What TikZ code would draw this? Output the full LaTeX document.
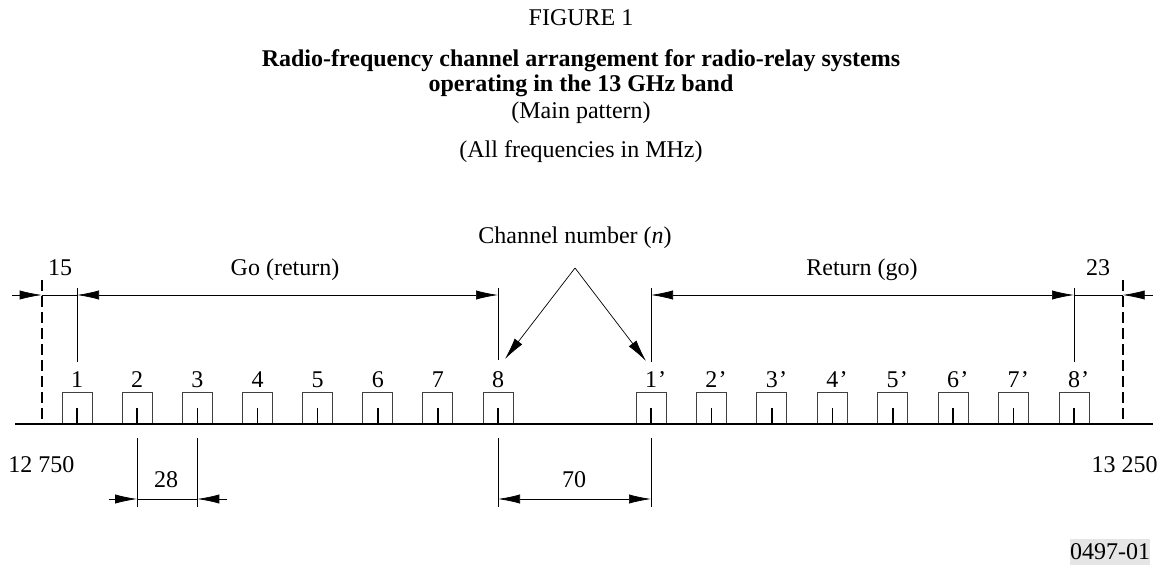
\documentclass[tikz,border=0pt]{standalone}
\usepackage{fontspec}
\setmainfont{Liberation Serif}
\usepackage{tikz}
\usetikzlibrary{positioning}
\usetikzlibrary{arrows.meta}
\tikzset{
  arrow_one/.style={-{Latex[length=11pt, width=4.6pt]}, line width=0.35pt, color=black},
  arrow_two/.style={{Latex[length=11pt, width=4.6pt]}-{Latex[length=11pt, width=4.6pt]}, line width=0.35pt, color=black},
  arrow_v/.style={-{Latex[length=11pt, width=4.8pt]}, line width=0.35pt, color=black},
  dim_line/.style={-, line width=0.35pt, color=black},
  band_edge/.style={-, dash pattern=on 5.5pt off 2.5pt, line width=0.9pt, color=black},
  base_line/.style={-, line width=0.8pt, color=black},
  chan_box/.style={rectangle, draw, color=black!75, line width=0.5pt, minimum width=15pt, minimum height=15.5pt, inner sep=0, anchor=south},
  chan_tick/.style={-, line width=0.8pt, color=black},
  lab/.style={anchor=base, inner sep=0, font=\fontsize{12}{14}\selectfont},
  title_lab/.style={anchor=base, inner sep=0, font=\fontsize{12}{14}\selectfont},
  title_bold/.style={anchor=base, inner sep=0, font=\fontsize{12}{14}\selectfont\bfseries},
  fig_tag/.style={fill=black!10, inner xsep=0pt, inner ysep=2.6pt, font=\fontsize{12}{14}\selectfont}
}

\begin{document}
\begin{tikzpicture}[x=0.5pt, y=-0.5pt]
\useasboundingbox (0,0) rectangle (1162,567);

%% Title
\node[title_lab]  (fig)   at (581,26)  {FIGURE 1};
\node[title_bold] (tit1)  at (581,67)  {Radio-frequency channel arrangement for radio-relay systems};
\node[title_bold] (tit2)  at (581,92)  {operating in the 13 GHz band};
\node[title_lab]  (tit3)  at (581,119) {(Main pattern)};
\node[title_lab]  (tit4)  at (581,157) {(All frequencies in MHz)};

%% Channels (go)
\node[chan_box] at (77,424)    (ch1) {};
\node[chan_box] at (137.1,424) (ch2) {};
\node[chan_box] at (197.3,424) (ch3) {};
\node[chan_box] at (257.5,424) (ch4) {};
\node[chan_box] at (317.6,424) (ch5) {};
\node[chan_box] at (377.8,424) (ch6) {};
\node[chan_box] at (437.9,424) (ch7) {};
\node[chan_box] at (498,424)   (ch8) {};

%% Channels (return)
\node[chan_box] at (651,424)    (ch1p) {};
\node[chan_box] at (711.4,424)  (ch2p) {};
\node[chan_box] at (771.9,424)  (ch3p) {};
\node[chan_box] at (832.3,424)  (ch4p) {};
\node[chan_box] at (892.7,424)  (ch5p) {};
\node[chan_box] at (953.1,424)  (ch6p) {};
\node[chan_box] at (1013.6,424) (ch7p) {};
\node[chan_box] at (1074,424)   (ch8p) {};

\draw[chan_tick] (ch1.south) -- (ch1.center);
\draw[chan_tick] (ch2.south) -- (ch2.center);
\draw[chan_tick] (ch3.south) -- (ch3.center);
\draw[chan_tick] (ch4.south) -- (ch4.center);
\draw[chan_tick] (ch5.south) -- (ch5.center);
\draw[chan_tick] (ch6.south) -- (ch6.center);
\draw[chan_tick] (ch7.south) -- (ch7.center);
\draw[chan_tick] (ch8.south) -- (ch8.center);

\draw[chan_tick] (ch1p.south) -- (ch1p.center);
\draw[chan_tick] (ch2p.south) -- (ch2p.center);
\draw[chan_tick] (ch3p.south) -- (ch3p.center);
\draw[chan_tick] (ch4p.south) -- (ch4p.center);
\draw[chan_tick] (ch5p.south) -- (ch5p.center);
\draw[chan_tick] (ch6p.south) -- (ch6p.center);
\draw[chan_tick] (ch7p.south) -- (ch7p.center);
\draw[chan_tick] (ch8p.south) -- (ch8p.center);

%% Channel numbers
\node[lab] at (77,387)    (n1) {1};
\node[lab] at (137.1,387) (n2) {2};
\node[lab] at (197.3,387) (n3) {3};
\node[lab] at (257.5,387) (n4) {4};
\node[lab] at (317.6,387) (n5) {5};
\node[lab] at (377.8,387) (n6) {6};
\node[lab] at (437.9,387) (n7) {7};
\node[lab] at (498,387)   (n8) {8};

\node[lab] at (651,387)    (n1p) {1\rlap{\kern0.6pt’}};
\node[lab] at (711.4,387)  (n2p) {2\rlap{\kern0.6pt’}};
\node[lab] at (771.9,387)  (n3p) {3\rlap{\kern0.6pt’}};
\node[lab] at (832.3,387)  (n4p) {4\rlap{\kern0.6pt’}};
\node[lab] at (892.7,387)  (n5p) {5\rlap{\kern0.6pt’}};
\node[lab] at (953.1,387)  (n6p) {6\rlap{\kern0.6pt’}};
\node[lab] at (1013.6,387) (n7p) {7\rlap{\kern0.6pt’}};
\node[lab] at (1074,387)   (n8p) {8\rlap{\kern0.6pt’}};

%% Band edges and base line
\coordinate (lo_t) at (41.7,280);
\coordinate (lo_b) at (41.7,424);
\coordinate (hi_t) at (1122.7,280);
\coordinate (hi_b) at (1122.7,424);
\coordinate (base_l) at (15,424);
\coordinate (base_r) at (1153,424);

\draw[band_edge] (lo_t) -- (lo_b);
\draw[band_edge] (hi_t) -- (hi_b);
\draw[base_line] (base_l) -- (base_r);

\node[lab] at (41.5,472)  (f_lo) {12\kern3pt750};
\node[lab] at (1124.5,472) (f_hi) {13\kern3pt250};

%% Upper dimensions
\coordinate (e1_t)  at (77,288);
\coordinate (e1_b)  at (77,362);
\coordinate (e8_t)  at (498,288);
\coordinate (e8_b)  at (498,360);
\coordinate (e1p_t) at (651,288);
\coordinate (e1p_b) at (651,362);
\coordinate (e8p_t) at (1074,288);
\coordinate (e8p_b) at (1074,362);

\draw[dim_line] (e1_t) -- (e1_b);
\draw[dim_line] (e8_t) -- (e8_b);
\draw[dim_line] (e1p_t) -- (e1p_b);
\draw[dim_line] (e8p_t) -- (e8p_b);

\coordinate (d_lo)  at (41.7,295);
\coordinate (d_1)   at (77,295);
\coordinate (d_8)   at (498,295);
\coordinate (d_1p)  at (651,295);
\coordinate (d_8p)  at (1074,295);
\coordinate (d_hi)  at (1122.7,295);
\coordinate (d_l)   at (12,295);
\coordinate (d_r)   at (1153,295);

\draw[arrow_one] (d_l) -- (d_lo);
\draw[dim_line]  (d_lo) -- (d_1);
\draw[arrow_two] (d_1) -- (d_8);
\draw[arrow_two] (d_1p) -- (d_8p);
\draw[dim_line]  (d_8p) -- (d_hi);
\draw[arrow_one] (d_r) -- (d_hi);

\node[lab] at (60,275)   (w15) {15};
\node[lab] at (285,275)  (go)  {Go (return)};
\node[lab] at (862,275)  (ret) {Return (go)};
\node[lab] at (1098,275) (w23) {23};

%% Channel number pointer
\node[lab] at (575,243) (cnum) {Channel number (\textit{n})};
\coordinate (apex) at (575,268);
\coordinate (tip8) at (505,359);
\coordinate (tip1p) at (646,361);
\draw[arrow_v] (apex) -- (tip8);
\draw[arrow_v] (apex) -- (tip1p);

%% Lower dimensions
\coordinate (s2_t)  at (137.1,438);
\coordinate (s2_b)  at (137.1,507);
\coordinate (s3_t)  at (197.3,438);
\coordinate (s3_b)  at (197.3,507);
\coordinate (s8_t)  at (498,438);
\coordinate (s8_b)  at (498,507);
\coordinate (s1p_t) at (651,438);
\coordinate (s1p_b) at (651,507);

\draw[dim_line] (s2_t) -- (s2_b);
\draw[dim_line] (s3_t) -- (s3_b);
\draw[dim_line] (s8_t) -- (s8_b);
\draw[dim_line] (s1p_t) -- (s1p_b);

\coordinate (b_2)  at (137.1,499);
\coordinate (b_3)  at (197.3,499);
\coordinate (b_l)  at (109,499);
\coordinate (b_r)  at (227,499);
\coordinate (b_8)  at (498,499);
\coordinate (b_1p) at (651,499);

\draw[arrow_one] (b_l) -- (b_2);
\draw[dim_line]  (b_2) -- (b_3);
\draw[arrow_one] (b_r) -- (b_3);
\draw[arrow_two] (b_8) -- (b_1p);

\node[lab] at (166,487) (w28) {28};
\node[lab] at (574,487) (w70) {70};

%% Figure tag
\node[fig_tag] at (1110,552) (tag) {0497-01};

\end{tikzpicture}
\end{document}
